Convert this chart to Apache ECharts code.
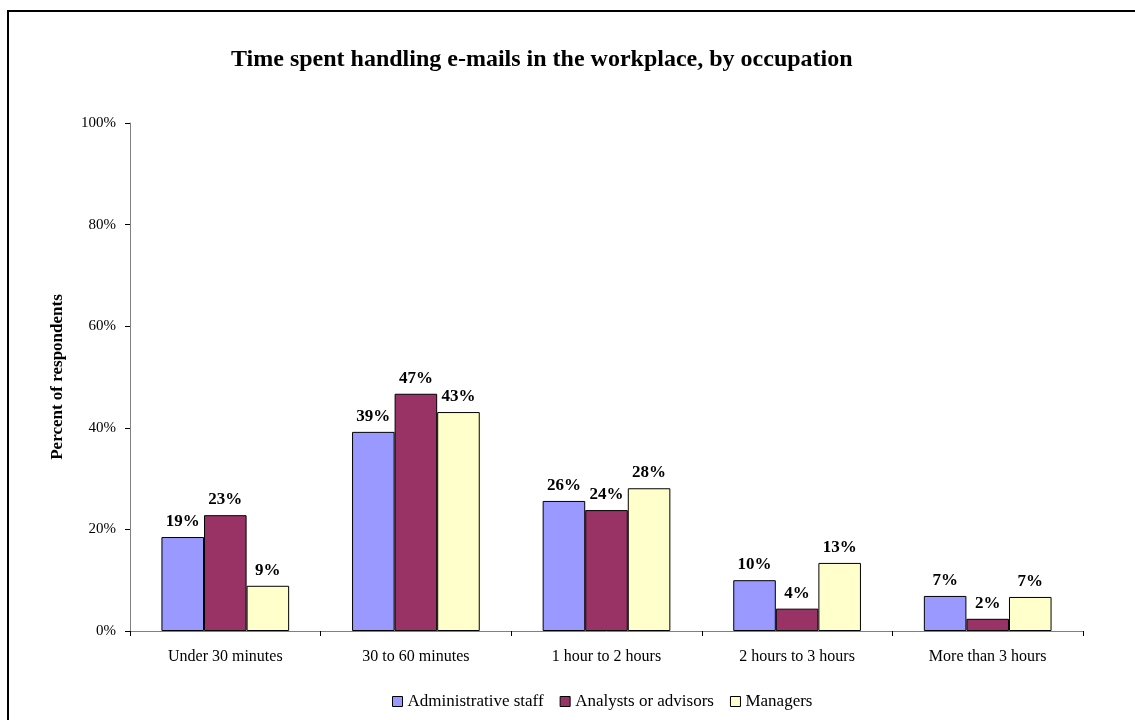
<!DOCTYPE html>
<html>
<head>
<meta charset="utf-8">
<script src="https://cdn.jsdelivr.net/npm/echarts@6/dist/echarts.min.js"></script>
<style>
html,body{margin:0;padding:0;background:#fff;}
#c{width:1135px;height:720px;}
</style>
</head>
<body>
<div id="c"></div>
<script>
const categories = ["Under 30 minutes", "30 to 60 minutes", "1 hour to 2 hours", "2 hours to 3 hours", "More than 3 hours"];
const seriesNames = ["Administrative staff", "Analysts or advisors", "Managers"];
const adminStaff = [18.5, 39.2, 25.6, 10.0, 6.9];
const analysts = [22.8, 46.7, 23.8, 4.4, 2.4];
const managers = [8.9, 43.1, 28.1, 13.4, 6.7];
const yTicks = [0, 20, 40, 60, 80, 100];
const colors = ["#9999ff", "#993366", "#ffffcc"];

const font = "'Liberation Serif', 'Times New Roman', serif";
const chart = echarts.init(document.getElementById('c'), null, {renderer: 'canvas'});
const values = [adminStaff, analysts, managers];

chart.setOption({
  animation: false,
  backgroundColor: '#fff',
  title: {
    text: 'Time spent handling e-mails in the workplace, by occupation',
    left: 226, top: 43,
    textStyle: {fontFamily: font, fontWeight: 'bold', fontSize: 24, color: '#000'}
  },
  graphic: [{
    type: 'rect', silent: true, z: 100,
    shape: {x: 8, y: 11, width: 1300, height: 900},
    style: {fill: 'none', stroke: '#000', lineWidth: 2}
  }],
  legend: {
    bottom: 5, left: 387,
    itemWidth: 10, itemHeight: 10, itemGap: 16,
    icon: 'rect',
    itemStyle: {borderColor: '#000', borderWidth: 1},
    textStyle: {fontFamily: font, fontSize: 17, color: '#000'},
    data: seriesNames
  },
  grid: {left: 130, right: 52, top: 123, bottom: 89, containLabel: false},
  xAxis: {
    type: 'category', data: categories,
    axisLine: {lineStyle: {color: '#808080', width: 1}},
    axisTick: {show: true, length: 5, lineStyle: {color: '#000'}},
    axisLabel: {fontFamily: font, fontSize: 16, color: '#000', margin: 18}
  },
  yAxis: {
    type: 'value', min: 0, max: 100, interval: 20,
    name: 'Percent of respondents', nameLocation: 'middle', nameGap: 64,
    nameTextStyle: {fontFamily: font, fontWeight: 'bold', fontSize: 17, color: '#000'},
    axisLine: {show: true, lineStyle: {color: '#808080', width: 1}},
    axisTick: {show: true, length: 5, lineStyle: {color: '#000'}},
    splitLine: {show: false},
    axisLabel: {fontFamily: font, fontSize: 15, color: '#000', margin: 14,
      formatter: v => yTicks.includes(v) ? v + '%' : ''}
  },
  series: seriesNames.map((n, i) => ({
    name: n, type: 'bar', data: values[i],
    barGap: '0%', barCategoryGap: '33%',
    itemStyle: {color: colors[i], borderColor: '#000', borderWidth: 1},
    label: {show: true, position: 'top', distance: 7,
      fontFamily: font, fontWeight: 'bold', fontSize: 17, color: '#000',
      formatter: p => Math.round(p.value) + '%'}
  }))
});
</script>
</body>
</html>
